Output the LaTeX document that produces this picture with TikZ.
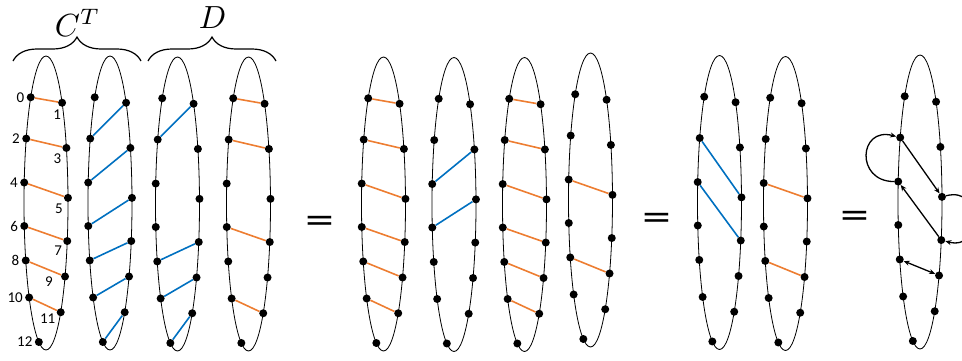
\documentclass[tikz,border=0pt]{standalone}
\usepackage{fontspec}
\setmainfont{Carlito}
\usetikzlibrary{arrows.meta,positioning,decorations.pathreplacing}
\definecolor{chordo}{RGB}{237,125,49}
\definecolor{chordb}{RGB}{0,112,192}

\begin{document}
\begin{tikzpicture}[x=1pt,y=1pt,>={Stealth[length=6pt,width=5pt]},
  ring/.style={draw,line width=0.8pt},
  dot/.style={circle,fill=black,inner sep=0pt,minimum size=8pt},
  och/.style={draw=chordo,line width=1.6pt},
  bch/.style={draw=chordb,line width=1.6pt},
  num/.style={font=\fontsize{15}{15}\selectfont,inner sep=1pt},
  eq/.style={font=\fontsize{40}{40}\selectfont,inner sep=0pt,xscale=1.45},
  br/.style={decorate,decoration={brace,amplitude=24pt},line width=1.2pt},
  arr/.style={->,line width=1.3pt}]
\useasboundingbox (0,0) rectangle (962,360);
% thirteen points on every ellipse
\foreach \e/\cx/\cy in {ca/46/157,cb/110/157,da/177.5/156,db/248.5/156,
    pa/383.5/156,pb/454/155.5,pc/524.5/155.5,pd/590.5/160,
    qa/719.5/157.5,qb/785.5/156.5,res/920/158}{
  \draw[ring] (\cx,\cy) ellipse (22 and 147);
  \foreach \i/\t in {0/134,1/43,2/154,3/22,4/172,5/2,6/189,7/-15,8/203,9/-30,10/220,11/-48,12/251}
    \node[dot] (\e-\i) at ({\cx+22*cos(\t)},{\cy+147*sin(\t)}) {};
}
% C^T and D
\coordinate (ctl) at (13,299); \coordinate (ctr) at (141,299);
\coordinate (dl) at (148,299); \coordinate (dr) at (276,299);
\draw[br] (ctl) -- (ctr);
\draw[br] (dl) -- (dr);
\node[scale=3.2,anchor=base] (ct) at (77.5,324) {$C^T$};
\node[scale=3.2,anchor=base] (dd) at (212.5,332) {$D$};
\foreach \i/\j in {0/1,2/3,4/5,6/7,8/9,10/11}{
  \draw[och] (ca-\i) -- (ca-\j);
  \draw[och] (pa-\i) -- (pa-\j);
  \draw[och] (pc-\i) -- (pc-\j);}
\foreach \i/\j in {2/1,4/3,6/5,8/7,10/9,12/11} \draw[bch] (cb-\i) -- (cb-\j);
\foreach \i/\j in {2/1,8/7,10/9,12/11} \draw[bch] (da-\i) -- (da-\j);
\foreach \i/\j in {0/1,2/3,6/7,10/11} \draw[och] (db-\i) -- (db-\j);
\foreach \i/\j in {4/3,6/5} \draw[bch] (pb-\i) -- (pb-\j);
\foreach \i/\j in {4/5,8/9}{
  \draw[och] (pd-\i) -- (pd-\j);
  \draw[och] (qb-\i) -- (qb-\j);}
\foreach \i/\j in {2/5,4/7} \draw[bch] (qa-\i) -- (qa-\j);
% point numbers
\node[num,left=1pt of ca-0] {0};
\node[num,left=1pt of ca-2] {2};
\node[num,left=1pt of ca-4] {4};
\node[num,left=1pt of ca-6] {6};
\node[num,left=1pt of ca-8] {8};
\node[num,left=1pt of ca-10] {10};
\node[num,left=1pt of ca-12] {12};
\node[num,below left=3pt and -3pt of ca-1] {1};
\node[num,below left=2pt and 1pt of ca-3] {3};
\node[num,below left=2pt and 1pt of ca-5] {5};
\node[num,below left=1pt and 1pt of ca-7] {7};
\node[num,left=7pt of ca-9,yshift=-5pt] {9};
\node[num,left=0pt of ca-11,yshift=-6pt] {11};
% equal signs
\node[eq] (eq1) at (320,135.5) {=};
\node[eq] (eq2) at (657,138) {=};
\node[eq] (eq3) at (855,140.5) {=};
% result
\draw[arr] (res-2) -- (res-5);
\draw[arr] (res-7) -- (res-4);
\draw[arr,<->] (res-8) -- (res-9);
\draw[arr] (res-4) to[out=180,in=165,looseness=2.2] (res-2);
\draw[arr] (res-5) to[out=15,in=-15,looseness=2.2] (res-7);
\end{tikzpicture}
\end{document}
